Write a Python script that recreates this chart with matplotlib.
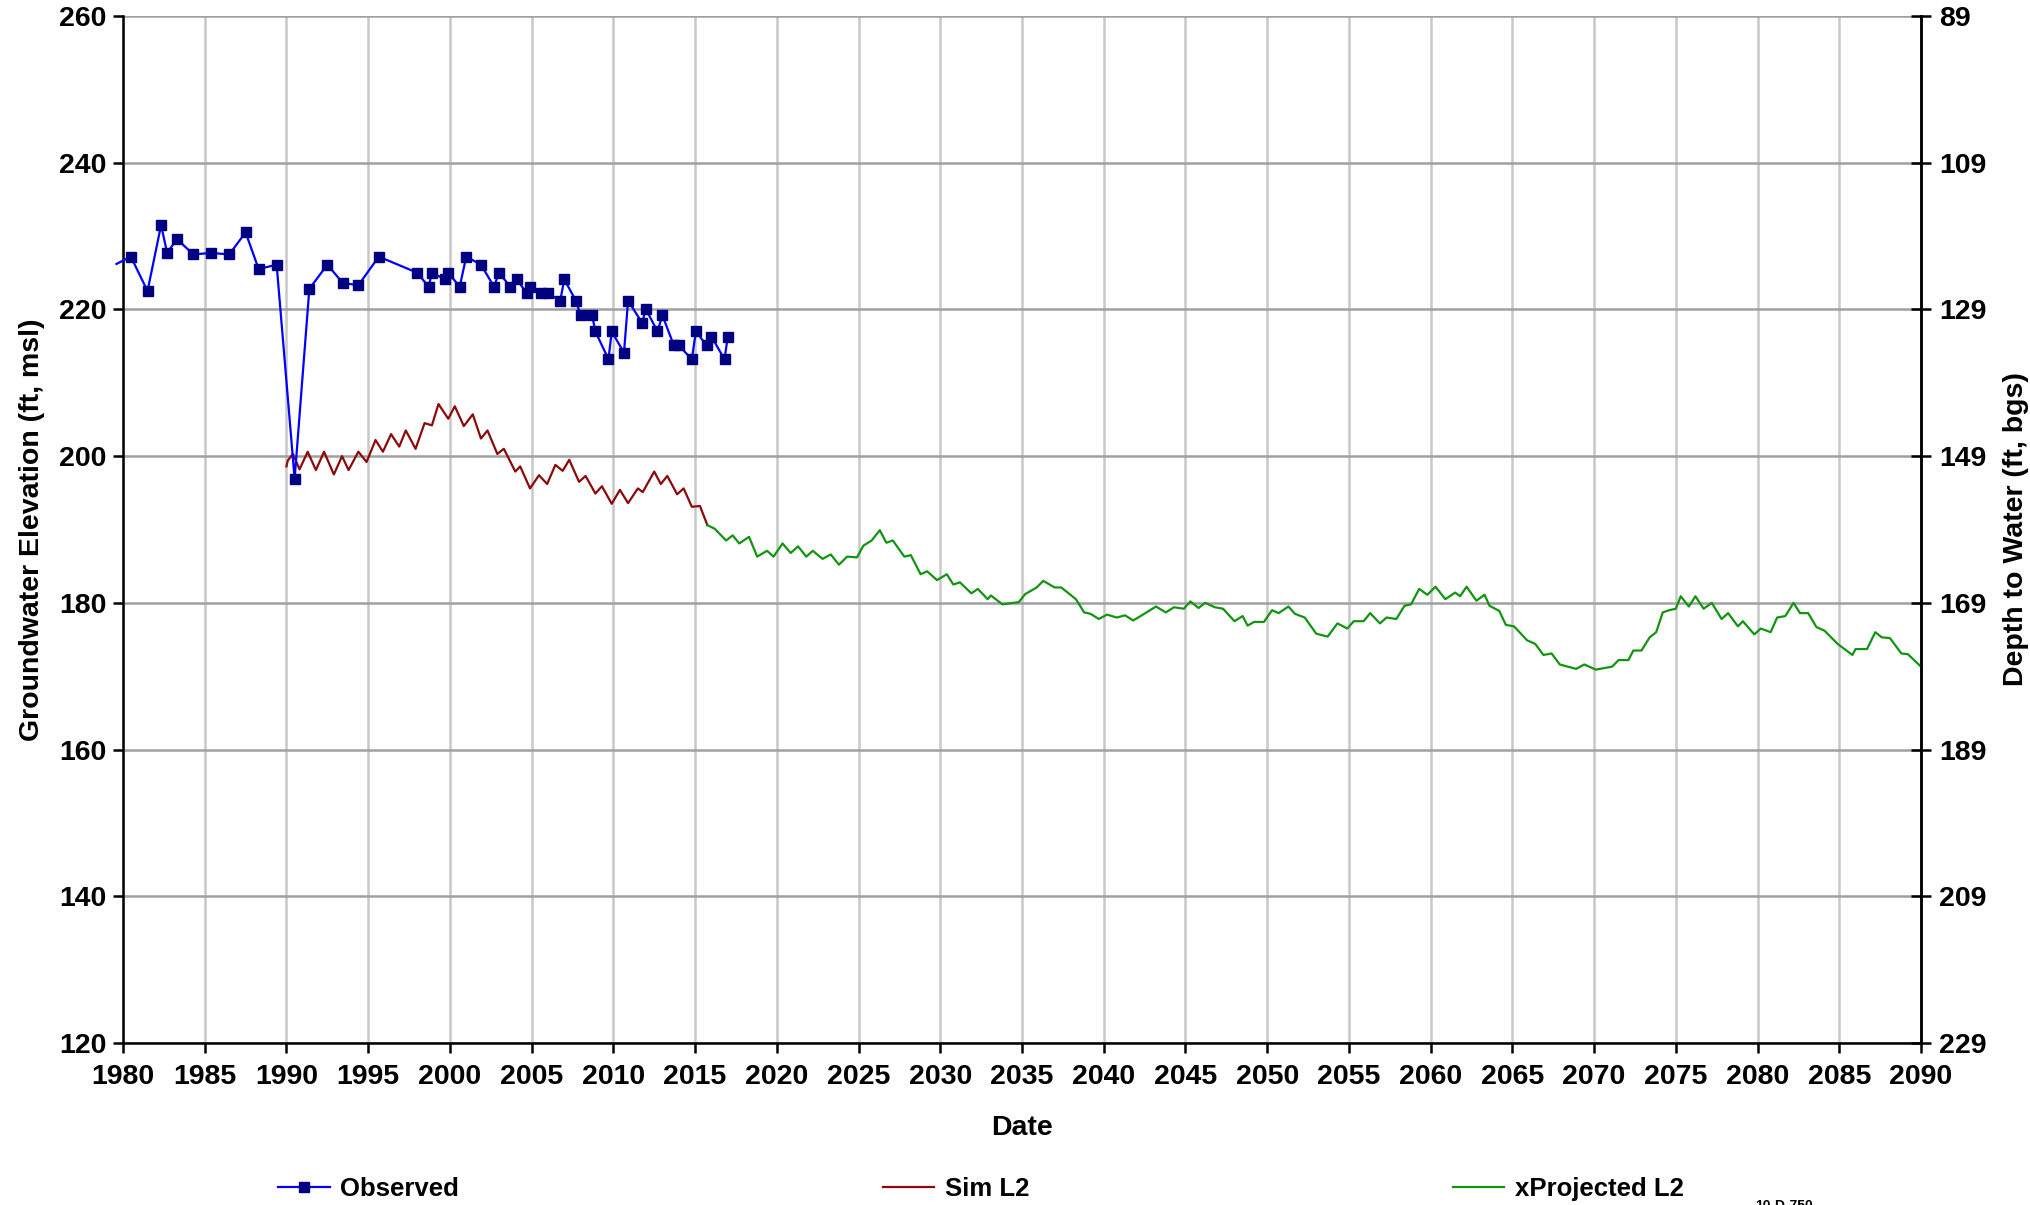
import matplotlib
matplotlib.use("Agg")
import matplotlib.pyplot as plt
from matplotlib.lines import Line2D

plt.rcParams['font.family'] = ['Liberation Sans', 'DejaVu Sans']
plt.rcParams['font.weight'] = 'bold'

# ---------------- data ----------------
obs_year = [1979.6, 1980.48, 1981.5, 1982.33, 1982.7, 1983.3, 1984.3, 1985.4, 1986.5, 1987.5,
            1988.3, 1989.4, 1990.5, 1991.4, 1992.5, 1993.45, 1994.4, 1995.65, 1998.0, 1998.7,
            1998.9, 1999.7, 1999.9, 2000.6, 2001.0, 2001.9, 2002.7, 2003.0, 2003.7, 2004.1,
            2004.7, 2004.9, 2005.6, 2006.0, 2006.75, 2007.0, 2007.7, 2008.0, 2008.7, 2008.9,
            2009.7, 2009.9, 2010.65, 2010.9, 2011.75, 2012.0, 2012.7, 2013.0, 2013.7, 2014.0,
            2014.8, 2015.05, 2015.7, 2016.0, 2016.8, 2017.0]
obs_elev = [226.2, 227.2, 222.5, 231.5, 227.7, 229.6, 227.5, 227.7, 227.5, 230.5,
            225.5, 226.1, 196.9, 222.8, 226.1, 223.6, 223.3, 227.2, 225.0, 223.1,
            225.0, 224.1, 225.0, 223.1, 227.2, 226.1, 223.1, 225.0, 223.1, 224.1,
            222.2, 223.1, 222.2, 222.2, 221.2, 224.1, 221.2, 219.2, 219.2, 217.0,
            213.2, 217.0, 214.1, 221.2, 218.2, 220.0, 217.0, 219.2, 215.1, 215.1,
            213.2, 217.0, 215.1, 216.3, 213.2, 216.3]

sim_year = [1990.0, 1990.08, 1990.4, 1990.8, 1991.3, 1991.8, 1992.3, 1992.9, 1993.4, 1993.8,
            1994.4, 1994.9, 1995.45, 1995.9, 1996.4, 1996.9, 1997.3, 1997.9, 1998.45, 1998.9,
            1999.3, 1999.9, 2000.3, 2000.85, 2001.4, 2001.9, 2002.3, 2002.9, 2003.3, 2004.0,
            2004.3, 2004.9, 2005.45, 2005.95, 2006.45, 2006.9, 2007.3, 2007.9, 2008.3, 2008.9,
            2009.3, 2009.9, 2010.4, 2010.9, 2011.5, 2011.8, 2012.5, 2012.9, 2013.3, 2013.9,
            2014.3, 2014.8, 2015.3, 2015.75]
sim_elev = [198.6, 199.4, 200.3, 198.2, 200.6, 198.1, 200.6, 197.5, 200.0, 198.1,
            200.6, 199.2, 202.2, 200.6, 203.0, 201.3, 203.5, 201.0, 204.5, 204.2,
            207.1, 205.1, 206.8, 204.1, 205.7, 202.4, 203.5, 200.3, 201.0, 197.9,
            198.6, 195.6, 197.4, 196.2, 198.8, 198.0, 199.5, 196.5, 197.3, 194.9,
            195.9, 193.5, 195.4, 193.6, 195.6, 195.1, 197.9, 196.2, 197.3, 194.8,
            195.6, 193.1, 193.2, 190.6]

proj_year = [2015.75, 2016.2, 2016.9, 2017.3, 2017.7, 2018.3, 2018.8, 2019.4, 2019.8, 2020.35,
             2020.85, 2021.3, 2021.8, 2022.2, 2022.8, 2023.3, 2023.8, 2024.3, 2024.9, 2025.3,
             2025.8, 2026.3, 2026.7, 2027.1, 2027.8, 2028.2, 2028.8, 2029.2, 2029.8, 2030.4,
             2030.8, 2031.2, 2031.9, 2032.3, 2032.9, 2033.1, 2033.8, 2034.8, 2035.2, 2035.9,
             2036.3, 2037.0, 2037.4, 2038.3, 2038.8, 2039.2, 2039.7, 2040.2, 2040.8, 2041.3,
             2041.8, 2042.4, 2043.2, 2043.8, 2044.3, 2044.9, 2045.3, 2045.8, 2046.2, 2046.8,
             2047.3, 2048.0, 2048.5, 2048.8, 2049.2, 2049.8, 2050.3, 2050.7, 2051.3, 2051.7,
             2052.3, 2053.0, 2053.7, 2054.3, 2054.9, 2055.3, 2055.9, 2056.3, 2056.9, 2057.3,
             2057.9, 2058.4, 2058.8, 2059.3, 2059.8, 2060.3, 2060.9, 2061.5, 2061.8, 2062.2,
             2062.8, 2063.3, 2063.6, 2064.2, 2064.6, 2065.1, 2065.9, 2066.4, 2066.9, 2067.4,
             2067.9, 2068.9, 2069.4, 2070.1, 2071.1, 2071.5, 2072.1, 2072.4, 2072.9, 2073.4,
             2073.8, 2074.2, 2074.6, 2075.0, 2075.3, 2075.8, 2076.2, 2076.7, 2077.2, 2077.8,
             2078.2, 2078.8, 2079.1, 2079.8, 2080.2, 2080.8, 2081.2, 2081.7, 2082.2, 2082.6,
             2083.1, 2083.6, 2084.1, 2084.9, 2085.8, 2086.0, 2086.7, 2087.2, 2087.6, 2088.1,
             2088.8, 2089.2, 2090.0]
proj_elev = [190.6, 190.1, 188.5, 189.2, 188.1, 189.0, 186.3, 187.1, 186.3, 188.1,
             186.8, 187.7, 186.3, 187.1, 186.0, 186.6, 185.2, 186.3, 186.2, 187.8,
             188.5, 189.9, 188.2, 188.5, 186.3, 186.5, 183.9, 184.3, 183.1, 183.9,
             182.5, 182.8, 181.3, 181.9, 180.5, 181.0, 179.8, 180.1, 181.2, 182.1,
             183.0, 182.1, 182.1, 180.5, 178.7, 178.5, 177.8, 178.4, 178.0, 178.3,
             177.6, 178.4, 179.5, 178.7, 179.4, 179.2, 180.2, 179.3, 180.0, 179.4,
             179.2, 177.5, 178.2, 176.9, 177.4, 177.4, 179.0, 178.6, 179.5, 178.5,
             178.0, 175.8, 175.4, 177.2, 176.5, 177.5, 177.5, 178.6, 177.2, 178.0,
             177.8, 179.6, 179.8, 181.9, 181.1, 182.2, 180.5, 181.4, 180.9, 182.2,
             180.3, 181.1, 179.6, 178.9, 177.0, 176.8, 174.9, 174.4, 172.9, 173.1,
             171.6, 171.0, 171.6, 170.9, 171.3, 172.2, 172.2, 173.5, 173.5, 175.3,
             176.0, 178.7, 179.0, 179.2, 180.9, 179.5, 180.9, 179.2, 180.0, 177.8,
             178.6, 176.8, 177.5, 175.7, 176.5, 176.0, 178.0, 178.2, 180.0, 178.6,
             178.6, 176.7, 176.2, 174.4, 172.9, 173.7, 173.7, 176.0, 175.3, 175.2,
             173.1, 173.0, 171.3]

x_ticks = list(range(1980, 2091, 5))
y_ticks = [120, 140, 160, 180, 200, 220, 240, 260]
depth_offset = 349  # depth to water = 349 - elevation
depth_ticks = [89, 109, 129, 149, 169, 189, 209, 229]

# ---------------- figure ----------------
W, H = 2031, 1205
FS = 20.5
fig = plt.figure(figsize=(W / 100, H / 100), dpi=100)
left, right, top, bottom = 123, 1921, 16, 1043
ax = fig.add_axes([left / W, 1 - bottom / H, (right - left) / W, (bottom - top) / H])

ax.set_xlim(1980, 2090)
ax.set_ylim(120, 260)
ax.set_xticks(x_ticks)
ax.set_yticks(y_ticks)

# gridlines
for xt in x_ticks:
    ax.axvline(xt, color='#C8C8C8', lw=1.8, zorder=0)
for yt in y_ticks:
    ax.axhline(yt, color='#A0A0A0', lw=1.8, zorder=0)

ax.plot(sim_year, sim_elev, color='#8B0A0A', lw=1.6, zorder=3)
ax.plot(proj_year, proj_elev, color='#129412', lw=1.6, zorder=3)
ax.plot(obs_year, obs_elev, color='#0000FF', lw=1.6, marker='s', ms=6.5,
        mfc='#000080', mec='#000080', zorder=4, clip_on=False, markevery=list(range(1, len(obs_year))))

ax.spines['top'].set_visible(False)
ax.spines['left'].set_linewidth(1.8)
ax.spines['bottom'].set_linewidth(1.8)
ax.spines['right'].set_linewidth(1.8)

ax.tick_params(axis='both', which='major', labelsize=FS, width=1.8, length=7,
               direction='out', pad=5)
ax.tick_params(axis='x', pad=8)
for lbl in ax.get_xticklabels() + ax.get_yticklabels():
    lbl.set_fontweight('bold')

ax.set_xlabel('Date', fontsize=FS, fontweight='bold', labelpad=18)
ax.set_ylabel('Groundwater Elevation (ft, msl)', fontsize=FS, fontweight='bold', labelpad=10)

# right axis: depth to water
ax2 = ax.twinx()
ax2.set_ylim(depth_offset - 120, depth_offset - 260)
ax2.set_yticks(depth_ticks)
ax2.spines['top'].set_visible(False)
ax2.spines['left'].set_visible(False)
ax2.spines['bottom'].set_visible(False)
ax2.spines['right'].set_linewidth(1.8)
ax2.tick_params(axis='y', labelsize=FS, width=1.8, length=14, direction='inout', pad=6)
for lbl in ax2.get_yticklabels():
    lbl.set_fontweight('bold')
ax2.set_ylabel('Depth to Water (ft, bgs)', fontsize=FS, fontweight='bold', labelpad=12)

# legend
handles = [
    Line2D([], [], color='#0000FF', lw=1.6, marker='s', ms=6.5, mfc='#000080', mec='#000080'),
    Line2D([], [], color='#8B0A0A', lw=1.6),
    Line2D([], [], color='#129412', lw=1.6),
]
labels = ['Observed', 'Sim L2', 'xProjected L2']
fig.legend(handles, labels, loc='center', bbox_to_anchor=(0.483, 1 - 1189 / H), ncol=3,
           frameon=False, prop={'weight': 'bold', 'size': 18.5},
           columnspacing=16.5, handlelength=2.0, handletextpad=0.4)

fig.text(1755 / W, 1 - 1199 / H, '10-D-750', fontsize=10, fontweight='bold', va='top', ha='left')

fig.savefig('out.png', dpi=100)
